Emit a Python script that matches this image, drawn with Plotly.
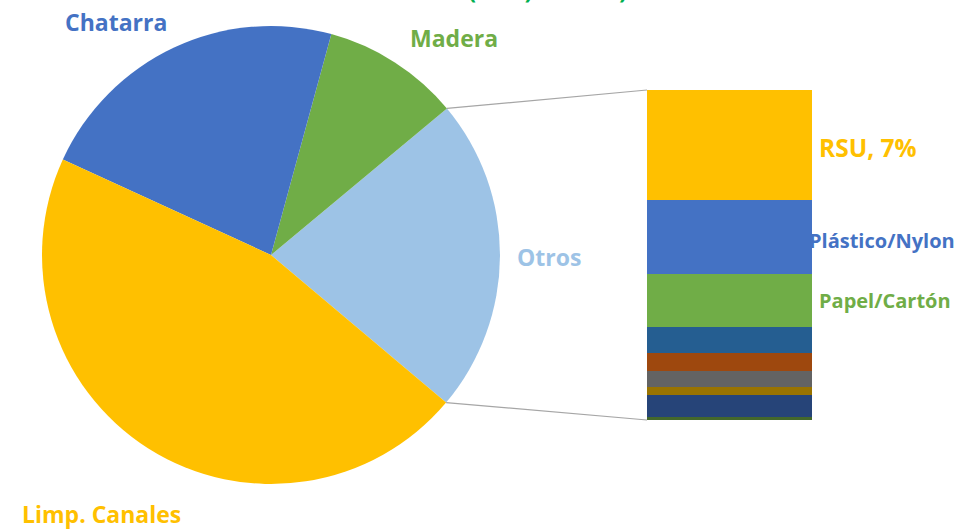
import math
import plotly.graph_objects as go

W, H = 976, 529

# ---- data ----
pie_labels = ["Otros", "Madera", "Chatarra", "Limp. Canales"]
pie_values = [22.2, 9.7, 22.4, 45.7]
pie_colors = ["#9DC3E6", "#70AD47", "#4472C4", "#FFC000"]

# bar of "Otros" (bottom -> top)
bar_labels = ["Otro 8", "Otro 7", "Otro 6", "Otro 5", "Otro 4", "Otro 3",
              "Papel/Cartón", "Plástico/Nylon", "RSU"]
bar_values = [0.2, 1.48, 0.54, 1.08, 1.21, 1.75, 3.57, 5.0, 7.4]
bar_colors = ["#43682B", "#264478", "#997300", "#636363", "#9E480E", "#255E91",
              "#70AD47", "#4472C4", "#FFC000"]

# ---- geometry (pixels) ----
cx, cy, r = 271, 255, 229
bx0, bx1, by0, by1 = 647, 812, 90, 420
# clockwise angle (from 12 o'clock) where the Otros slice begins
otros_start_cw = 50.2

def px(x):
    return x / W

def py(y):
    return (H - y) / H

fig = go.Figure()

fig.add_trace(go.Pie(
    labels=pie_labels, values=pie_values, sort=False,
    direction="counterclockwise", rotation=otros_start_cw,
    marker=dict(colors=pie_colors, line=dict(width=0)),
    textinfo="none", hoverinfo="label+value",
    domain=dict(x=[px(cx - r), px(cx + r)], y=[py(cy + r), py(cy - r)]),
    showlegend=False,
))

for lab, val, col in zip(bar_labels, bar_values, bar_colors):
    fig.add_trace(go.Bar(x=["Otros"], y=[val], name=lab,
                         marker=dict(color=col, line=dict(width=0)),
                         showlegend=False, xaxis="x", yaxis="y"))

total_otros = sum(bar_values)

# connector lines from the Otros slice edges to the bar
a_top = math.radians(90 - otros_start_cw)
a_bot = a_top - 2 * math.pi * pie_values[0] / sum(pie_values)
p_top = (cx + r * math.cos(a_top), cy - r * math.sin(a_top))
p_bot = (cx + r * math.cos(a_bot), cy - r * math.sin(a_bot))
shapes = [
    dict(type="line", xref="paper", yref="paper",
         x0=px(p_top[0]), y0=py(p_top[1]), x1=px(bx0), y1=py(by0),
         line=dict(color="#A6A6A6", width=1.2)),
    dict(type="line", xref="paper", yref="paper",
         x0=px(p_bot[0]), y0=py(p_bot[1]), x1=px(bx0), y1=py(by1),
         line=dict(color="#A6A6A6", width=1.2)),
]

FONT = "Open Sans, Lato, sans-serif"

def ann(text, x, y, color, size=23, yanchor="middle"):
    return dict(text="<b>%s</b>" % text, x=px(x), y=py(y), xref="paper", yref="paper",
                showarrow=False, font=dict(family=FONT, size=size, color=color),
                xanchor="center", yanchor=yanchor)

annotations = [
    ann("Chatarra", 116, 22, "#4472C4"),
    ann("Madera", 454, 38, "#70AD47"),
    ann("Otros", 549, 257, "#9DC3E6"),
    ann("Limp. Canales", 101, 514, "#FFC000"),
    ann("RSU, 7%", 868, 147, "#FFC000", 24.5),
    ann("Plástico/Nylon", 882, 240, "#4472C4", 20),
    ann("Papel/Cartón", 885, 300, "#70AD47", 20),
    ann("Neumáticos (NFU) usados)", 475, 8, "#00B050", 23, "bottom"),
]

fig.update_layout(
    width=W, height=H,
    margin=dict(l=0, r=0, t=0, b=0),
    paper_bgcolor="white", plot_bgcolor="white",
    barmode="stack", bargap=0,
    xaxis=dict(domain=[px(bx0), px(bx1)], visible=False, fixedrange=True),
    yaxis=dict(domain=[py(by1), py(by0)], range=[0, total_otros], visible=False,
               fixedrange=True),
    shapes=shapes, annotations=annotations,
)

fig.write_html("out.html", config={"displayModeBar": False},
               post_script="document.body.style.margin='0';")
